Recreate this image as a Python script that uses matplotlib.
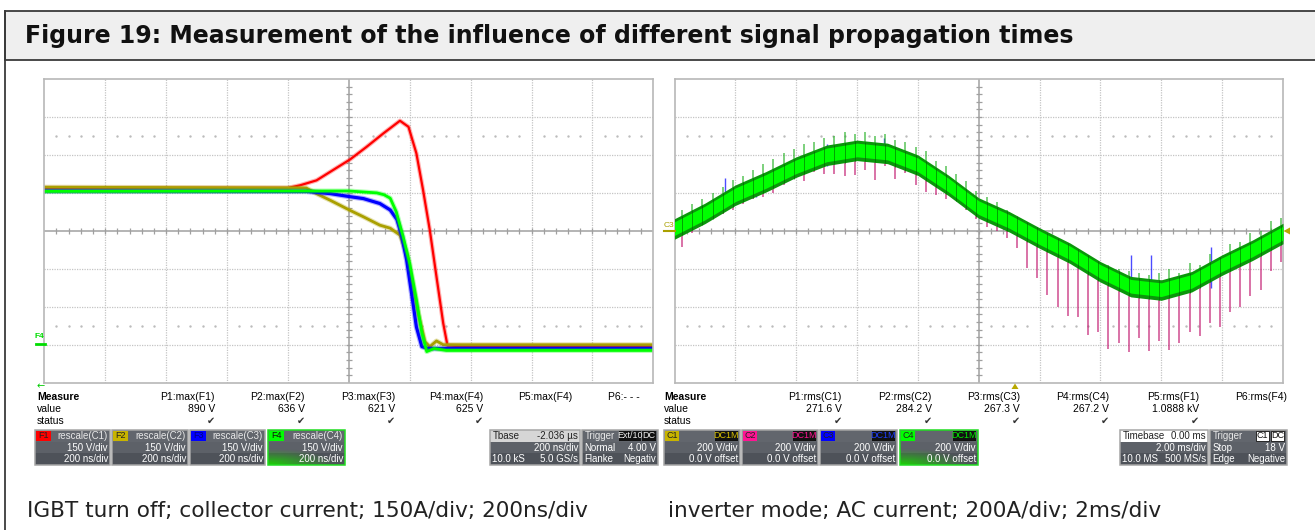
import numpy as np
import matplotlib
matplotlib.use("Agg")
import matplotlib.pyplot as plt
from matplotlib.patches import Rectangle, Polygon

W, H = 1315, 530

# ---- left scope: IGBT turn off, screen divisions (x: 0..10, y: -4..4) ----
red_x = [0, 4.0, 4.2, 4.47, 4.74, 5.02, 5.29, 5.57, 5.84, 5.98, 6.11, 6.22, 6.33, 6.44, 6.55, 6.62, 7.0, 10]
red_y = [1.13, 1.13, 1.2, 1.33, 1.6, 1.88, 2.21, 2.57, 2.9, 2.74, 2.04, 1.07, 0.02, -1.21, -2.43, -3.02, -3.05, -3.05]
yel_x = [0, 4.3, 4.47, 4.69, 5.02, 5.24, 5.51, 5.68, 5.84, 5.95, 6.06, 6.14, 6.25, 6.33, 6.44, 6.55, 10]
yel_y = [1.15, 1.13, 0.98, 0.81, 0.54, 0.37, 0.15, 0.07, -0.11, -0.59, -1.47, -2.17, -2.92, -3.05, -2.9, -3.0, -3.0]
blu_x = [0, 4.3, 4.7, 5.02, 5.24, 5.51, 5.68, 5.79, 5.87, 5.95, 6.03, 6.11, 6.2, 6.3, 10]
blu_y = [1.05, 1.04, 0.98, 0.9, 0.85, 0.72, 0.55, 0.3, -0.14, -0.77, -1.64, -2.53, -3.05, -3.1, -3.1]
grn_x = [0, 5.0, 5.46, 5.58, 5.68, 5.78, 5.89, 6.0, 6.11, 6.2, 6.28, 6.4, 6.6, 10]
grn_y = [1.04, 1.05, 1.0, 0.95, 0.86, 0.5, -0.14, -0.85, -1.82, -2.69, -3.18, -3.1, -3.15, -3.15]

# ---- right scope: inverter AC current ----
band_x = [0, 0.5, 1, 1.5, 2, 2.5, 3, 3.5, 4, 4.5, 5, 5.5, 6, 6.5, 7, 7.5, 8, 8.5, 9, 9.5, 10]
band_c = [0.05, 0.46, 0.94, 1.29, 1.68, 1.99, 2.12, 2.04, 1.73, 1.2, 0.6, 0.24, -0.19, -0.59,
          -1.08, -1.47, -1.56, -1.34, -0.9, -0.51, -0.07]
spike_t0, spike_period = 0.125, 0.1668
pink_low = [-0.42, -0.05, 0.2, 0.3, 0.45, 0.55, 0.7, 0.85, 0.9, 1.0, 1.2, 1.38, 1.3, 1.55, 1.5,
            1.49, 1.44, 1.47, 1.6, 1.33, 1.7, 1.36, 1.53, 1.2, 1.03, 0.94, 0.84, 0.8, 0.54, 0.3,
            0.1, 0.0, -0.2, -0.45, -0.99, -1.25, -1.69, -2.0, -2.24, -2.28, -2.74, -2.66, -3.1,
            -2.95, -3.18, -2.83, -3.17, -2.89, -3.14, -2.95, -2.66, -2.77, -2.42, -2.53, -2.13,
            -2.0, -1.72, -1.56, -1.05, -0.82]
green_high = [0.55, 0.7, 0.85, 1.0, 1.15, 1.35, 1.45, 1.6, 1.75, 1.9, 2.05, 2.15, 2.3, 2.35, 2.45,
              2.5, 2.6, 2.55, 2.6, 2.5, 2.55, 2.4, 2.35, 2.2, 2.1, 1.85, 1.7, 1.5, 1.3, 1.05,
              0.9, 0.75, 0.55, 0.3, 0.1, -0.1, -0.2, -0.28, -0.45, -0.6, -0.7, -0.85, -0.9,
              -1.0, -1.05, -1.1, -1.15, -1.1, -1.0, -1.1, -0.85, -0.9, -0.6, -0.7, -0.35,
              -0.3, -0.05, 0.0, 0.25, 0.35]
blue_x = [0.83, 1.34, 2.5, 3.45, 7.5, 7.83, 8.82]
blue_lo = [0.9, 0.9, 1.7, 1.9, -1.6, -1.6, -1.5]
blue_hi = [1.39, 1.2, 2.3, 2.45, -0.64, -0.64, -0.42]

# ---- measure tables ----
left_params = ["P1:max(F1)", "P2:max(F2)", "P3:max(F3)", "P4:max(F4)", "P5:max(F4)", "P6:- - -"]
left_values = ["890 V", "636 V", "621 V", "625 V", "", ""]
right_params = ["P1:rms(C1)", "P2:rms(C2)", "P3:rms(C3)", "P4:rms(C4)", "P5:rms(F1)", "P6:rms(F4)"]
right_values = ["271.6 V", "284.2 V", "267.3 V", "267.2 V", "1.0888 kV", ""]

title = "Figure 19: Measurement of the influence of different signal propagation times"
cap_left = "IGBT turn off; collector current; 150A/div; 200ns/div"
cap_right = "inverter mode; AC current; 200A/div; 2ms/div"

UI = ["Liberation Sans", "DejaVu Sans"]
RED, YEL, BLU, GRN, MAG = "#ff0000", "#aaa000", "#0000ff", "#00ff00", "#c0106a"

fig = plt.figure(figsize=(W / 100, H / 100), dpi=100)
bg = fig.add_axes([0, 0, 1, 1])
bg.set_xlim(0, W)
bg.set_ylim(H, 0)
bg.axis("off")

# frame + title band
bg.add_patch(Rectangle((5.5, 11), W, 49, fc="#efefef", ec="#3a3a3a", lw=1.3, zorder=1))
bg.plot([5.5, 5.5], [11, H], color="#3a3a3a", lw=1.3, zorder=1)
bg.text(25, 36, title, fontsize=17, fontweight="bold", family="DejaVu Sans", va="center", color="#111")
bg.text(27, 511, cap_left, fontsize=15.6, family="DejaVu Sans", va="center", color="#222")
bg.text(668, 511, cap_right, fontsize=15.6, family="DejaVu Sans", va="center", color="#222")


def px_axes(x0, y0, x1, y1):
    return fig.add_axes([x0 / W, 1 - y1 / H, (x1 - x0) / W, (y1 - y0) / H])


def scope_grid(ax):
    ax.set_xlim(0, 10)
    ax.set_ylim(-4, 4)
    ax.set_xticks([])
    ax.set_yticks([])
    for s in ax.spines.values():
        s.set_color("#b8b8b8")
        s.set_linewidth(1.2)
    for gx in range(1, 10):
        if gx != 5:
            ax.axvline(gx, color="#c4c4c4", lw=0.9, ls=(0, (1, 1)), zorder=0)
    for gy in range(-3, 4):
        if gy != 0:
            ax.axhline(gy, color="#c4c4c4", lw=0.9, ls=(0, (1, 1)), zorder=0)
    ax.axvline(5, color="#a0a0a0", lw=1.1, zorder=0)
    ax.axhline(0, color="#a0a0a0", lw=1.1, zorder=0)
    sub = np.arange(0.2, 10, 0.2)
    ax.vlines(sub, -0.07, 0.07, color="#a0a0a0", lw=0.9, zorder=0)
    suby = np.arange(-3.8, 4, 0.2)
    ax.hlines(suby, 4.95, 5.05, color="#a0a0a0", lw=0.9, zorder=0)
    dots = [d for d in sub if abs(d - round(d)) > 0.05]
    ax.plot(dots, [2.5] * len(dots), ls="none", marker="s", ms=0.7, color="#bcbcbc", zorder=0)
    ax.plot(dots, [-2.5] * len(dots), ls="none", marker="s", ms=0.7, color="#bcbcbc", zorder=0)


# left scope
axl = px_axes(44.3, 79, 653.3, 382.7)
scope_grid(axl)
for xs, ys, c, lw in [(red_x, red_y, RED, 1.6), (yel_x, yel_y, YEL, 2.0),
                      (blu_x, blu_y, BLU, 2.3), (grn_x, grn_y, GRN, 2.0)]:
    axl.plot(xs, ys, color=c, lw=lw + 1.6, alpha=0.3, solid_joinstyle="round")
    axl.plot(xs, ys, color=c, lw=lw, solid_joinstyle="round")

# right scope
axr = px_axes(674.5, 79, 1283, 382.7)
scope_grid(axr)
spx = spike_t0 + spike_period * np.arange(len(pink_low))
spc = np.interp(spx, band_x, band_c)
axr.vlines(spx, pink_low, spc, color=MAG, lw=1.1, alpha=0.75, zorder=2)
axr.vlines(blue_x, blue_lo, blue_hi, color=BLU, lw=1.0, alpha=0.7, zorder=2)
axr.vlines(spx, spc, green_high, color="#22b022", lw=1.1, alpha=0.75, zorder=2)
bc = np.array(band_c)
axr.fill_between(band_x, bc - 0.27, bc + 0.27, color="#0b960b", lw=0, zorder=3)
axr.fill_between(band_x, bc - 0.17, bc + 0.19, color=GRN, lw=0, zorder=3)
axr.vlines(spx, spc - 0.27, spc + 0.25, color="#006400", lw=0.7, alpha=0.6, zorder=4)

# overlay for markers around the scopes
top = fig.add_axes([0, 0, 1, 1], facecolor="none")
top.set_xlim(0, W)
top.set_ylim(H, 0)
top.axis("off")
top.text(35, 337, "F4", fontsize=6, color="#00dd00", family=UI, fontweight="bold", va="center")
top.plot([36, 45], [344.3, 344.3], color="#00dd00", lw=2)
top.text(41, 386.5, "\u2190", fontsize=7, color="#00cc00", family="DejaVu Sans", ha="center", va="center")
top.text(664, 225.5, "C3", fontsize=6, color=YEL, family=UI, va="center")
top.plot([664, 675], [230.8, 230.8], color=YEL, lw=1.5)
top.add_patch(Polygon([[1283.5, 231], [1290, 227.5], [1290, 234.5]], closed=True, fc="#b8a800", ec="none"))
top.add_patch(Polygon([[1015, 383.5], [1011.5, 389], [1018.5, 389]], closed=True, fc="#b8a800", ec="none"))


def measure_table(x_label, rights, params, values):
    top.text(x_label, 397, "Measure", fontsize=7.5, fontweight="bold", family=UI, va="center")
    top.text(x_label, 409, "value", fontsize=7.5, family=UI, va="center")
    top.text(x_label, 421, "status", fontsize=7.5, family=UI, va="center")
    for xr, p, v in zip(rights, params, values):
        top.text(xr, 397, p, fontsize=7.5, family=UI, ha="right", va="center")
        if v:
            top.text(xr, 409, v, fontsize=7.5, family=UI, ha="right", va="center")
            top.text(xr - 4, 421, "\u2714", fontsize=7, family=["DejaVu Sans"], ha="center",
                     va="center", color="#333")


measure_table(37, [215, 305, 395, 483, 572, 640], left_params, left_values)
measure_table(664, [842, 932, 1020, 1109, 1199, 1287], right_params, right_values)


def box(x0, x1, glow=False, light_top=None):
    y0, y1 = 430, 465
    top.add_patch(Rectangle((x0, y0), x1 - x0, y1 - y0, fc="#4e5259", ec="none", zorder=2))
    top.add_patch(Rectangle((x0, 442), x1 - x0, 11, fc="#5d6168", ec="none", zorder=2))
    top.add_patch(Rectangle((x0, y0), x1 - x0, 12, fc=light_top or "#62666d", ec="none", zorder=2))
    if glow:
        gx = np.linspace(0, 1, 60)
        gy = np.linspace(0, 1, 20)
        X, Y = np.meshgrid(gx, gy)
        a = np.clip(1 - np.hypot(X * 1.1, (1 - Y) * 1.3), 0, 1) ** 1.2
        img = np.zeros((20, 60, 4))
        img[..., 1] = 0.85
        img[..., 0] = 0.1
        img[..., 3] = a * 0.95
        top.imshow(img, extent=(x0, x1, y1, 443), aspect="auto", zorder=3, interpolation="bilinear")
        top.set_xlim(0, W)
        top.set_ylim(H, 0)
    edge = "#22dd22" if glow else "#a6a6a6"
    top.add_patch(Rectangle((x0, y0), x1 - x0, y1 - y0, fc="none", ec=edge, lw=1.1, zorder=5))


def badge(x, y, w, txt, fc, tc, ec="none"):
    top.add_patch(Rectangle((x, y - 5), w, 10, fc=fc, ec=ec, lw=0.6, zorder=6))
    top.text(x + w / 2, y, txt, fontsize=6.5, family=UI, color=tc, ha="center", va="center", zorder=7)


def rows(x0, x1, r1l, r1r, r2l, r2r, r3l, r3r, topcol="#e8e8e8"):
    kw = dict(fontsize=7, family=UI, va="center", zorder=7)
    if r1l:
        top.text(x0 + 2.5, 436, r1l, ha="left", color=topcol, **kw)
    if r1r:
        top.text(x1 - 2, 436, r1r, ha="right", color=topcol, **kw)
    if r2l:
        top.text(x0 + 2.5, 448, r2l, ha="left", color="white", **kw)
    top.text(x1 - 2, 448, r2r, ha="right", color="white", **kw)
    if r3l:
        top.text(x0 + 2.5, 459.5, r3l, ha="left", color="white", **kw)
    top.text(x1 - 2, 459.5, r3r, ha="right", color="white", **kw)


# left channel boxes
for (x0, x1), lab, col, tc, src in zip([(35, 110), (112, 188), (190, 265), (268, 345)],
                                      ["F1", "F2", "F3", "F4"], [RED, "#c8b400", BLU, GRN],
                                      ["#222", "#222", "#000080", "#111"],
                                      ["rescale(C1)", "rescale(C2)", "rescale(C3)", "rescale(C4)"]):
    box(x0, x1, glow=(lab == "F4"))
    badge(x0 + 1.5, 436, 15, lab, col, tc)
    rows(x0, x1, None, src, None, "150 V/div", None, "200 ns/div")

box(490, 580, light_top="#d6d6d6")
rows(490, 580, "Tbase", "-2.036 \u00b5s", None, "200 ns/div", "10.0 kS", "5.0 GS/s", topcol="#222")
box(582, 658)
rows(582, 658, "Trigger", None, "Normal", "4.00 V", "Flanke", "Negativ")
badge(619, 436, 22, "Ext/10", "#111", "#eee")
badge(642, 436, 14, "DC", "#111", "#eee")

# right channel boxes
for (x0, x1), lab, col, dc in zip([(664, 740), (742, 818), (820, 897), (900, 978)],
                                  ["C1", "C2", "C3", "C4"], ["#c8b400", "#ff1493", BLU, GRN],
                                  ["#d8c000", "#ff1493", "#2040ff", "#00ee00"]):
    box(x0, x1, glow=(lab == "C4"))
    badge(x0 + 1.5, 436, 14, lab, col, "#222")
    badge(x1 - 25, 436, 23, "DC1M", "#111", dc)
    rows(x0, x1, None, None, None, "200 V/div", None, "0.0 V offset")

box(1120, 1208, light_top="white")
rows(1120, 1208, "Timebase", "0.00 ms", None, "2.00 ms/div", "10.0 MS", "500 MS/s", topcol="#222")
box(1210, 1287)
rows(1210, 1287, "Trigger", None, "Stop", "18 V", "Edge", "Negative")
badge(1256, 436, 13, "C1", "white", "#111", ec="#111")
badge(1271, 436, 13, "DC", "white", "#111", ec="#111")

fig.savefig("out.png", dpi=100)
